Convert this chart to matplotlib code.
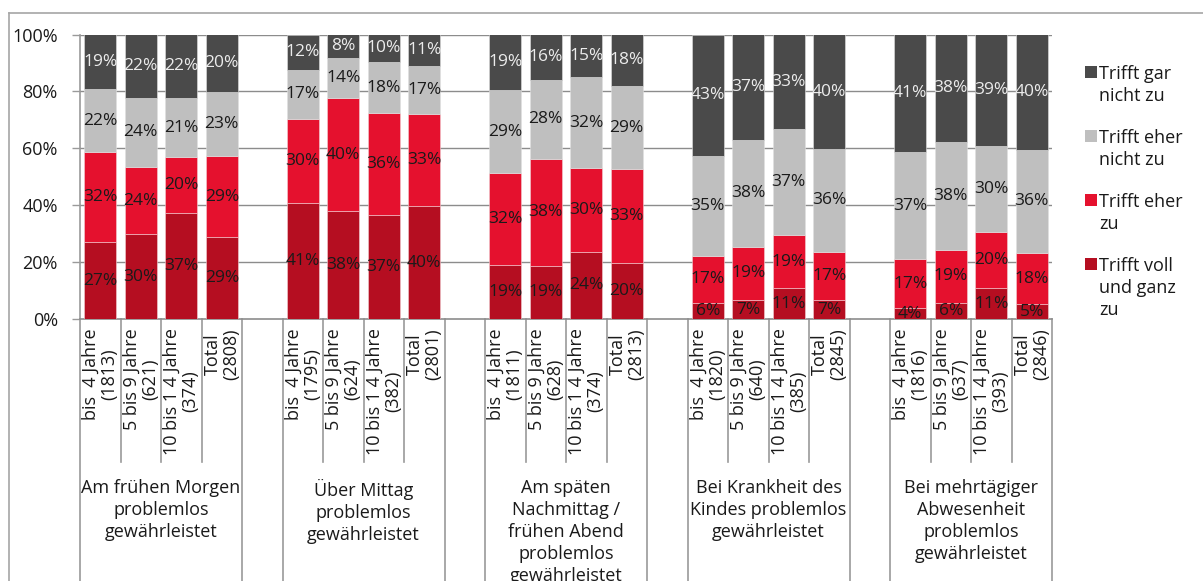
import matplotlib
matplotlib.use("Agg")
import matplotlib.pyplot as plt
from matplotlib.lines import Line2D
from matplotlib.patches import Rectangle
import matplotlib.transforms as mtransforms

plt.rcParams['font.family'] = ['Open Sans', 'DejaVu Sans']

# ---------------- data ----------------
groups = [
    "Am frühen Morgen\nproblemlos\ngewährleistet",
    "Über Mittag\nproblemlos\ngewährleistet",
    "Am späten\nNachmittag /\nfrühen Abend\nproblemlos\ngewährleistet",
    "Bei Krankheit des\nKindes problemlos\ngewährleistet",
    "Bei mehrtägiger\nAbwesenheit\nproblemlos\ngewährleistet",
]
sub_labels = [
    ["bis  4 Jahre\n(1813)", "5 bis 9 Jahre\n(621)", "10 bis 1 4 Jahre\n(374)", "Total\n(2808)"],
    ["bis  4 Jahre\n(1795)", "5 bis 9 Jahre\n(624)", "10 bis 1 4 Jahre\n(382)", "Total\n(2801)"],
    ["bis  4 Jahre\n(1811)", "5 bis 9 Jahre\n(628)", "10 bis 1 4 Jahre\n(374)", "Total\n(2813)"],
    ["bis  4 Jahre\n(1820)", "5 bis 9 Jahre\n(640)", "10 bis 1 4 Jahre\n(385)", "Total\n(2845)"],
    ["bis  4 Jahre\n(1816)", "5 bis 9 Jahre\n(637)", "10 bis 1 4 Jahre\n(393)", "Total\n(2846)"],
]
series_names = ["Trifft voll\nund ganz\nzu", "Trifft eher\nzu", "Trifft eher\nnicht zu", "Trifft gar\nnicht zu"]

trifft_voll = [27.0, 29.8, 37.3, 28.7,
               40.6, 38.0, 36.6, 39.6,
               18.9, 18.7, 23.6, 19.6,
               5.6, 6.6, 10.8, 6.6,
               3.8, 5.6, 10.8, 5.2]
trifft_eher = [31.7, 23.7, 19.7, 28.6,
               29.6, 39.6, 35.9, 32.6,
               32.3, 37.7, 29.6, 33.0,
               16.6, 18.8, 18.7, 17.0,
               17.3, 18.8, 19.8, 18.0]
eher_nicht = [22.1, 24.3, 20.6, 22.6,
              17.3, 14.3, 17.7, 16.9,
              29.4, 27.6, 31.7, 29.3,
              35.2, 37.6, 37.2, 36.2,
              37.4, 37.7, 30.3, 36.3]
gar_nicht = [19.2, 22.2, 22.4, 20.1,
             12.4, 8.1, 9.8, 10.9,
             19.4, 16.0, 15.1, 18.1,
             42.6, 37.0, 33.3, 40.2,
             41.4, 37.9, 39.1, 40.4]

yticks = [0, 20, 40, 60, 80, 100]

# ---------------- style ----------------
colors = ["#b50e21", "#e5112e", "#bfbfbf", "#4a4a4a"]
label_colors = ["#1a1a1a", "#1a1a1a", "#1a1a1a", "#ececec"]
grid_col = "#8c8c8c"
axis_col = "#9a9a9a"
FS = 13

W, H = 1203, 581
fig = plt.figure(figsize=(W / 100, H / 100), dpi=100)
ax_l, ax_r, ax_t, ax_b = 80, 1052, 34.5, 319
ax = fig.add_axes([ax_l / W, 1 - ax_b / H, (ax_r - ax_l) / W, (ax_b - ax_t) / H])

n_groups = len(groups)
n_sub = 4
positions = [g * (n_sub + 1) + i for g in range(n_groups) for i in range(n_sub)]
n_slots = n_groups * (n_sub + 1) - 1

series = [trifft_voll, trifft_eher, eher_nicht, gar_nicht]
# 100% stacked: normalise each column to its total
totals = [sum(col) for col in zip(*series)]
bottoms = [0.0] * len(positions)
for s, vals in enumerate(series):
    heights = [v / t * 100 for v, t in zip(vals, totals)]
    ax.bar(positions, heights, bottom=bottoms, width=0.79, color=colors[s],
           edgecolor="#f2d0d4" if s < 2 else "#e0e0e0", linewidth=0.4, zorder=3)
    for p, v, h, b in zip(positions, vals, heights, bottoms):
        ax.text(p, b + h / 2, f"{v:.0f}%", ha="center", va="center",
                fontsize=FS - 0.5, color=label_colors[s], zorder=5)
    bottoms = [b + h for b, h in zip(bottoms, heights)]

ax.set_xlim(-0.5, n_slots - 0.5)
ax.set_ylim(0, 100)
ax.set_yticks(yticks)
ax.set_yticklabels([f"{t}%" for t in yticks], fontsize=FS, color="#1a1a1a")
ax.tick_params(axis="y", length=6, width=1, color=axis_col, pad=10)
ax.tick_params(axis="x", length=0, labelbottom=False)
for t in yticks[1:]:
    ax.axhline(t, color=grid_col, linewidth=1, zorder=1)
for sp in ["top", "right"]:
    ax.spines[sp].set_visible(False)
ax.spines["left"].set_color(axis_col)
ax.spines["bottom"].set_color(grid_col)
ax.spines["left"].set_linewidth(1.2)
ax.spines["bottom"].set_linewidth(1.2)

# category separator lines
trans = mtransforms.blended_transform_factory(ax.transData, ax.transAxes)
ax_h = ax_b - ax_t
short_y = -(462 - ax_b) / ax_h
long_y = -(H - ax_b) / ax_h
for g in range(n_groups):
    start = g * (n_sub + 1) - 0.5
    for k in range(n_sub + 1):
        x = start + k
        y_end = long_y if k in (0, n_sub) else short_y
        ax.add_line(Line2D([x, x], [0, y_end], transform=trans, color=axis_col,
                           linewidth=1.2, clip_on=False))

# sub labels (rotated)
lab_top = -(328 - ax_b) / ax_h
for g in range(n_groups):
    for i in range(n_sub):
        ax.text(g * (n_sub + 1) + i, lab_top, sub_labels[g][i], transform=trans,
                rotation=90, ha="center", va="top", multialignment="center",
                fontsize=FS, color="#1a1a1a", linespacing=1.05)
# group labels
grp_top = -(479 - ax_b) / ax_h
for g in range(n_groups):
    ax.text(g * (n_sub + 1) + (n_sub - 1) / 2, grp_top, groups[g], transform=trans,
            ha="center", va="top", multialignment="center",
            fontsize=FS, color="#1a1a1a", linespacing=1.29)

# legend (top entry = last series)
leg_y = [71.7, 136, 200, 264.3]
line_h = 22
for j, s in enumerate(reversed(range(len(series)))):
    yc = leg_y[j]
    fig.patches.append(Rectangle((1085 / W, 1 - (yc + 6) / H), 12 / W, 12 / H,
                                 transform=fig.transFigure, facecolor=colors[s],
                                 edgecolor="none"))
    for k, line in enumerate(series_names[s].split("\n")):
        fig.text(1099 / W, 1 - (yc + k * line_h) / H, line, ha="left",
                 va="center_baseline", fontsize=FS, color="#1a1a1a")

# outer chart border (partially visible)
fig.add_artist(Line2D([8.5 / W, 8.5 / W], [1 - 12.5 / H, 0], transform=fig.transFigure,
                      color="#a6a6a6", linewidth=1.2))
fig.add_artist(Line2D([8.5 / W, 1], [1 - 12.5 / H, 1 - 12.5 / H], transform=fig.transFigure,
                      color="#a6a6a6", linewidth=1.2))

fig.savefig("out.png", dpi=100, facecolor="white")
